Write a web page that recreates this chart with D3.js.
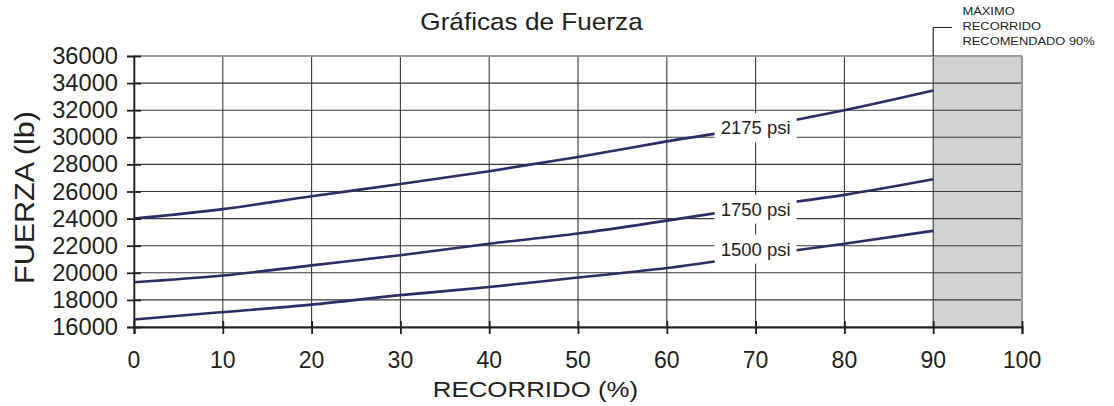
<!DOCTYPE html>
<html>
<head>
<meta charset="utf-8">
<script src="https://cdn.jsdelivr.net/npm/d3@7"></script>
<style>
  body { margin: 0; background: #fff; }
  text { font-family: "Liberation Sans", Arial, Helvetica, sans-serif; fill: #231f20; }
</style>
</head>
<body>
<div class="chart"></div>
<script>
var svgWidth = 1114;
var svgHeight = 406;

var margin = { top: 56, right: 92, bottom: 79, left: 134 };

var width = svgWidth - margin.left - margin.right;
var height = svgHeight - margin.top - margin.bottom;

// Data
var recorrido = [0, 10, 20, 30, 40, 50, 60, 70, 80, 90];
var fuerza2175 = [24000, 24700, 25650, 26550, 27500, 28550, 29700, 30750, 32000, 33450];
var fuerza1750 = [19300, 19800, 20550, 21300, 22150, 22900, 23850, 24850, 25750, 26900];
var fuerza1500 = [16550, 17100, 17650, 18350, 18950, 19650, 20350, 21250, 22150, 23100];
var seriesNames = ["2175 psi", "1750 psi", "1500 psi"];
var labelAt = 70;
var labelForce = [30700, 24700, 21750];
var xTicks = [0, 10, 20, 30, 40, 50, 60, 70, 80, 90, 100];
var yTicks = [16000, 18000, 20000, 22000, 24000, 26000, 28000, 30000, 32000, 34000, 36000];
var maxRecorrido = 90;
var noteLines = ["MÁXIMO", "RECORRIDO", "RECOMENDADO 90%"];

var series = [fuerza2175, fuerza1750, fuerza1500].map(function(vals, i) {
  return {
    name: seriesNames[i],
    labelForce: labelForce[i],
    points: recorrido.map(function(r, j) { return { x: r, y: vals[j] }; })
  };
});

var svg = d3.select(".chart")
  .append("svg")
  .attr("width", svgWidth)
  .attr("height", svgHeight);

var chartGroup = svg.append("g")
  .attr("transform", `translate(${margin.left}, ${margin.top})`);

var x = d3.scaleLinear().domain([0, 100]).range([0, width]);
var y = d3.scaleLinear().domain([16000, 36000]).range([height, 0]);

// helper for slightly stretched text like the scanned original
function stretchText(g, tx, ty, sx, size, anchor, str, rot) {
  return g.append("text")
    .attr("transform", `translate(${tx},${ty})` + (rot ? ` rotate(${rot})` : "") + ` scale(${sx},1)`)
    .attr("text-anchor", anchor)
    .style("font-size", size + "px")
    .text(str);
}

// shaded region past max recommended stroke
chartGroup.append("rect")
  .attr("x", x(maxRecorrido))
  .attr("y", 0)
  .attr("width", x(100) - x(maxRecorrido))
  .attr("height", height)
  .attr("fill", "#d1d2d4");

// grid
chartGroup.append("g")
  .selectAll("line.hgrid")
  .data(yTicks)
  .enter()
  .append("line")
  .attr("x1", 0)
  .attr("x2", width)
  .attr("y1", d => y(d))
  .attr("y2", d => y(d))
  .attr("stroke", "#3a3a3a")
  .attr("stroke-width", 1.1);

chartGroup.append("g")
  .selectAll("line.vgrid")
  .data(xTicks)
  .enter()
  .append("line")
  .attr("x1", d => x(d))
  .attr("x2", d => x(d))
  .attr("y1", 0)
  .attr("y2", height)
  .attr("stroke", "#3a3a3a")
  .attr("stroke-width", 1.1);

// top and right border are grey
chartGroup.append("line")
  .attr("x1", 0).attr("x2", width).attr("y1", 0).attr("y2", 0)
  .attr("stroke", "#9c9c9c").attr("stroke-width", 2.2);
chartGroup.append("line")
  .attr("x1", width).attr("x2", width).attr("y1", 0).attr("y2", height)
  .attr("stroke", "#9c9c9c").attr("stroke-width", 2.2);

// curves
var line = d3.line()
  .x(d => x(d.x))
  .y(d => y(d.y))
  .curve(d3.curveMonotoneX);

chartGroup.selectAll("path.curve")
  .data(series)
  .enter()
  .append("path")
  .attr("class", "curve")
  .attr("d", d => line(d.points))
  .attr("fill", "none")
  .attr("stroke", "#2b2e66")
  .attr("stroke-width", 2.6);

// curve labels on white boxes
var labels = chartGroup.selectAll("g.lbl")
  .data(series)
  .enter()
  .append("g")
  .attr("transform", d => `translate(${x(labelAt)}, ${y(d.labelForce)})`);

labels.append("rect")
  .attr("x", -41)
  .attr("y", -14.5)
  .attr("width", 82)
  .attr("height", 29)
  .attr("fill", "#fff");

labels.append("text")
  .attr("text-anchor", "middle")
  .attr("y", 6.5)
  .style("font-size", "18.5px")
  .text(d => d.name);

// axes
var leftAxis = d3.axisLeft(y).tickValues(yTicks).tickSize(7).tickFormat("");
var bottomAxis = d3.axisBottom(x).tickValues(xTicks).tickSize(7).tickFormat("");

var ly = chartGroup.append("g").call(leftAxis);
ly.select(".domain").attr("stroke", "#231f20").attr("stroke-width", 1.6);
ly.selectAll(".tick line").attr("x1", 7).attr("stroke", "#231f20").attr("stroke-width", 1.8);

var lx = chartGroup.append("g")
  .attr("transform", `translate(0, ${height})`)
  .call(bottomAxis);
lx.select(".domain").attr("stroke", "#231f20").attr("stroke-width", 2);
lx.selectAll(".tick line").attr("y1", -6).attr("stroke", "#231f20").attr("stroke-width", 1.8);

// tick labels
yTicks.forEach(function(t) {
  stretchText(chartGroup, -16, y(t) + 8, 1.03, 23, "end", t);
});
xTicks.forEach(function(t) {
  stretchText(chartGroup, x(t), height + 40.5, 1.0, 23, "middle", t);
});

// titles
stretchText(svg, 531.5, 30, 1.09, 24, "middle", "Gráficas de Fuerza");
stretchText(svg, 535.5, 397, 1.15, 22.5, "middle", "RECORRIDO (%)");
stretchText(svg, 34, margin.top + height / 2 + 6, 1.09, 28, "middle", "FUERZA (lb)", -90);

// note on max stroke
var noteX = margin.left + x(maxRecorrido);
svg.append("path")
  .attr("d", `M${noteX},${margin.top} V27.5 H952`)
  .attr("fill", "none")
  .attr("stroke", "#231f20")
  .attr("stroke-width", 1.1);

noteLines.forEach(function(s, i) {
  stretchText(svg, 962.5, 14.5 + i * 15.2, 1.12, 11.5, "start", s);
});
</script>
</body>
</html>
